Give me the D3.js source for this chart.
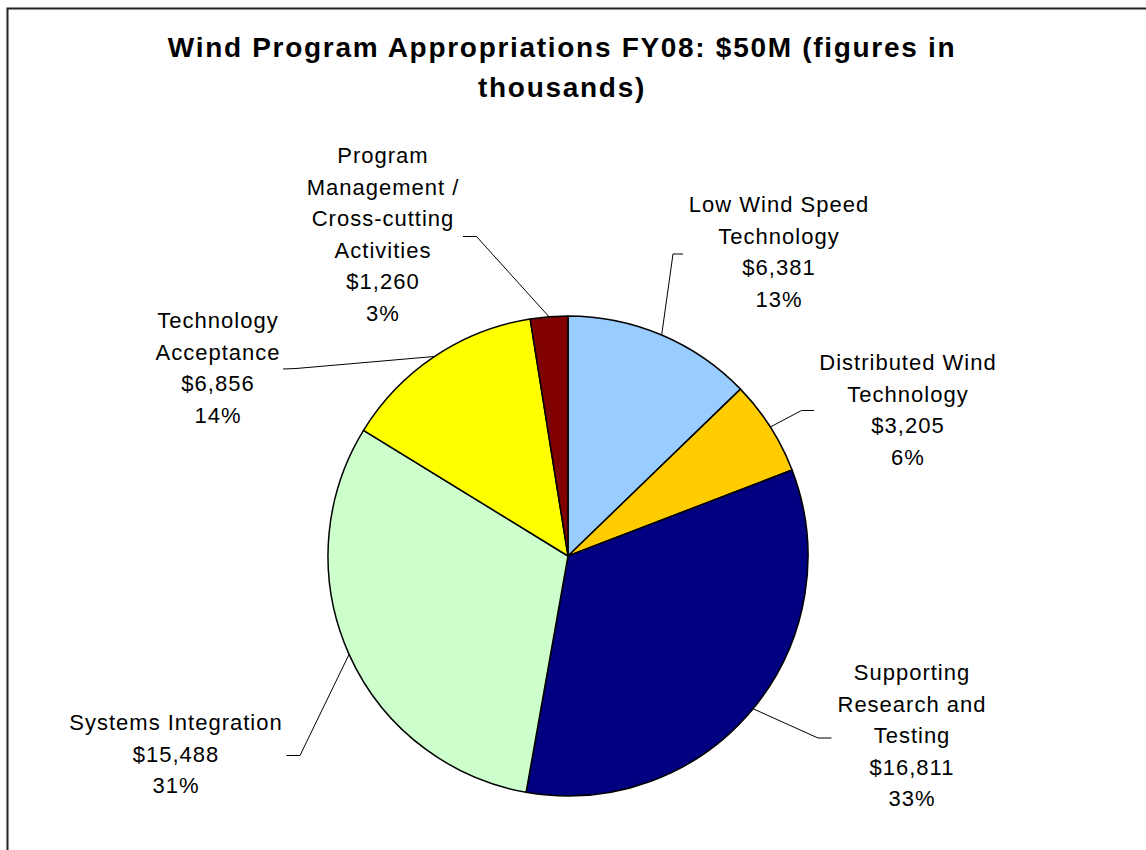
<!DOCTYPE html>
<html>
<head>
<meta charset="utf-8">
<script src="https://cdn.jsdelivr.net/npm/d3@7"></script>
<style>
  body { margin: 0; background: #fff; }
  text { font-family: "Liberation Sans", Arial, sans-serif; fill: #000; }
</style>
</head>
<body>
<div id="chart"></div>
<script>
(function() {
  var width = 1146, height = 850;

  // figures in thousands
  var categories = ["Low Wind Speed Technology", "Distributed Wind Technology", "Supporting Research and Testing",
                    "Systems Integration", "Technology Acceptance", "Program Management / Cross-cutting Activities"];
  var values = [6381, 3205, 16811, 15488, 6856, 1260];
  var valueLabels = ["$6,381", "$3,205", "$16,811", "$15,488", "$6,856", "$1,260"];
  var percentLabels = ["13%", "6%", "33%", "31%", "14%", "3%"];
  var nameLines = [
    ["Low Wind Speed", "Technology"],
    ["Distributed Wind", "Technology"],
    ["Supporting", "Research and", "Testing"],
    ["Systems Integration"],
    ["Technology", "Acceptance"],
    ["Program", "Management /", "Cross-cutting", "Activities"]
  ];
  var colors = ["#99CCFF", "#FFCC00", "#000080", "#CCFFCC", "#FFFF00", "#800000"];

  // where each label block and its leader elbow sit
  var labelLayout = [
    { x: 779, y: 212, elbow: [673, 254], end: [683, 254] },
    { x: 908, y: 370, elbow: [801.5, 410.5], end: [814, 410.5] },
    { x: 912, y: 680, elbow: [818, 738], end: [831.5, 738] },
    { x: 176, y: 730, elbow: [300, 755.5], end: [286.5, 755.5] },
    { x: 218, y: 328, elbow: [296, 368.5], end: [283, 369] },
    { x: 383, y: 163, elbow: [476.5, 236.5], end: [463, 236.5] }
  ];

  var cx = 568, cy = 556, radius = 240, lineStep = 31.5;

  var svg = d3.select("#chart")
    .append("svg")
    .attr("width", width)
    .attr("height", height);

  svg.append("rect")
    .attr("width", width)
    .attr("height", height)
    .attr("fill", "#fff");

  // chart area border (runs off the right and bottom)
  svg.append("rect")
    .attr("x", 7.5)
    .attr("y", 8.5)
    .attr("width", 1200)
    .attr("height", 900)
    .attr("fill", "none")
    .attr("stroke", "#222")
    .attr("stroke-width", 2);

  // title
  var title = svg.append("text")
    .attr("text-anchor", "middle")
    .style("font-size", "28px")
    .style("font-weight", "bold")
    .style("letter-spacing", "1.7px");
  title.append("tspan").attr("x", 562).attr("y", 57).text("Wind Program Appropriations FY08: $50M (figures in");
  title.append("tspan").attr("x", 562).attr("y", 97).text("thousands)");

  var data = categories.map(function(c, i) {
    return { name: c, value: values[i], color: colors[i], lines: nameLines[i].concat([valueLabels[i], percentLabels[i]]), layout: labelLayout[i] };
  });

  var pie = d3.pie().sort(null).value(function(d) { return d.value; });
  var arc = d3.arc().innerRadius(0).outerRadius(radius);
  var edgeArc = d3.arc().innerRadius(radius).outerRadius(radius);

  var g = svg.append("g").attr("transform", "translate(" + cx + "," + cy + ")");
  var arcs = pie(data);

  g.selectAll("path.slice")
    .data(arcs)
    .enter().append("path")
    .attr("class", "slice")
    .attr("d", arc)
    .attr("fill", function(d) { return d.data.color; })
    .attr("stroke", "#000")
    .attr("stroke-width", 1.5)
    .attr("stroke-linejoin", "round");

  // leader lines
  svg.selectAll("polyline.leader")
    .data(arcs)
    .enter().append("polyline")
    .attr("class", "leader")
    .attr("fill", "none")
    .attr("stroke", "#000")
    .attr("stroke-width", 1)
    .attr("points", function(d) {
      var p = edgeArc.centroid(d);
      var l = d.data.layout;
      return [[cx + p[0], cy + p[1]], l.elbow, l.end].map(function(q) { return q.join(","); }).join(" ");
    });

  // labels
  var labels = svg.selectAll("text.label")
    .data(data)
    .enter().append("text")
    .attr("class", "label")
    .attr("text-anchor", "middle")
    .style("font-size", "22px")
    .style("letter-spacing", "1px");

  labels.selectAll("tspan")
    .data(function(d) { return d.lines.map(function(t, i) { return { t: t, i: i, l: d.layout }; }); })
    .enter().append("tspan")
    .attr("x", function(d) { return d.l.x; })
    .attr("y", function(d) { return d.l.y + d.i * lineStep; })
    .text(function(d) { return d.t; });
})();
</script>
</body>
</html>
